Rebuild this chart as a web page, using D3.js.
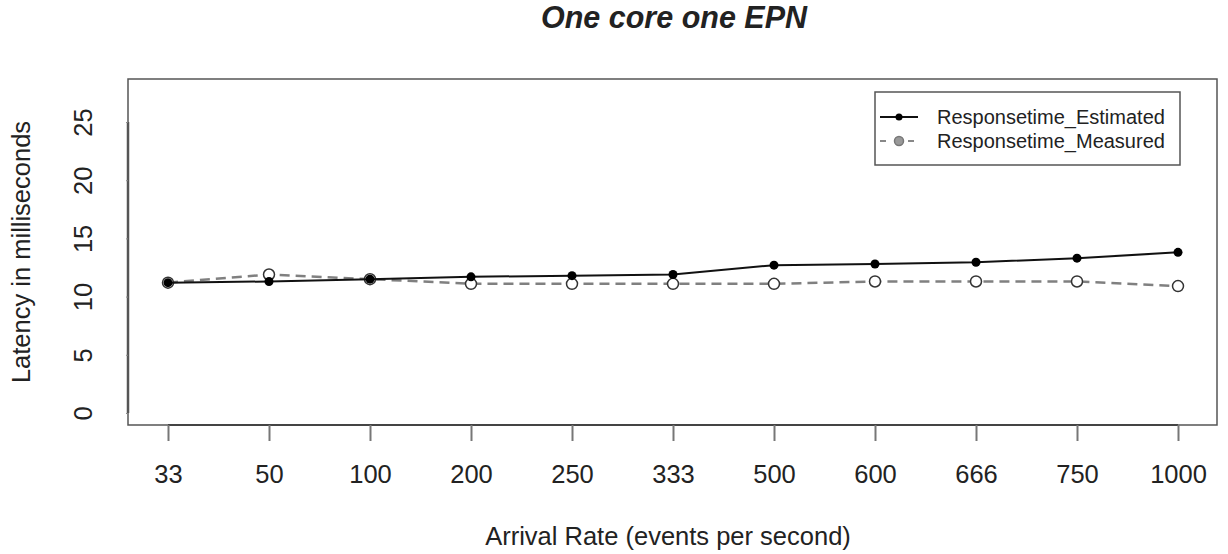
<!DOCTYPE html>
<html>
<head>
<meta charset="utf-8">
<script src="https://cdn.jsdelivr.net/npm/d3@7"></script>
<style>
  body { margin: 0; background: #fff; }
  svg text { font-family: "Liberation Sans", Arial, sans-serif; fill: #222; }
</style>
</head>
<body>
<div id="chart"></div>
<script>
// Data
var arrivalRates = ["33", "50", "100", "200", "250", "333", "500", "600", "666", "750", "1000"];
var estimated = [11.2, 11.3, 11.5, 11.7, 11.8, 11.9, 12.7, 12.8, 12.95, 13.3, 13.8];
var measured = [11.2, 11.9, 11.5, 11.1, 11.1, 11.1, 11.1, 11.3, 11.3, 11.3, 10.9];
var yTicks = [0, 5, 10, 15, 20, 25];
var seriesNames = ["Responsetime_Estimated", "Responsetime_Measured"];

var width = 1228, height = 554;
// plot box (R style frame)
var box = { left: 128, top: 79, right: 1217, bottom: 425 };
var axisFont = "25.5px";

var svg = d3.select("#chart")
  .append("svg")
  .attr("width", width)
  .attr("height", height);

// Scales
var x = d3.scalePoint()
  .domain(arrivalRates)
  .range([168, 1178]);

var y = d3.scaleLinear()
  .domain([0, 25])
  .range([413, 122]);

// Title
svg.append("text")
  .attr("x", 674)
  .attr("y", 28)
  .attr("text-anchor", "middle")
  .style("font-size", "30.5px")
  .style("font-weight", "bold")
  .style("font-style", "italic")
  .text("One core one EPN");

// Frame
svg.append("rect")
  .attr("x", box.left)
  .attr("y", box.top)
  .attr("width", box.right - box.left)
  .attr("height", box.bottom - box.top)
  .attr("fill", "none")
  .attr("stroke", "#555")
  .attr("stroke-width", 1.5);

// X axis
var xAxis = svg.append("g")
  .attr("transform", "translate(0," + box.bottom + ")")
  .call(d3.axisBottom(x).tickSize(16).tickPadding(24));
xAxis.select(".domain").attr("stroke", "#444").attr("stroke-width", 2)
  .attr("d", "M" + x(arrivalRates[0]) + ",0H" + x(arrivalRates[arrivalRates.length - 1]));
xAxis.selectAll(".tick line").attr("stroke", "#777").attr("stroke-width", 2);
xAxis.selectAll(".tick text")
  .style("font-size", axisFont)
  .style("font-family", "Liberation Sans, Arial, sans-serif")
  .attr("fill", "#222");

// Y axis (labels rotated like R's default)
var yAxis = svg.append("g")
  .attr("transform", "translate(" + box.left + ",0)")
  .call(d3.axisLeft(y).tickValues(yTicks).tickSize(2).tickPadding(0));
yAxis.select(".domain").attr("stroke", "#555").attr("stroke-width", 2.5)
  .attr("d", "M0," + y(0) + "V" + y(25));
yAxis.selectAll(".tick line").attr("stroke", "#888");
yAxis.selectAll(".tick text")
  .style("font-size", axisFont)
  .style("font-family", "Liberation Sans, Arial, sans-serif")
  .attr("fill", "#222")
  .attr("x", null)
  .attr("dy", null)
  .attr("text-anchor", "middle")
  .attr("transform", "translate(-36,0) rotate(-90)");

// Axis titles
svg.append("text")
  .attr("x", 668)
  .attr("y", 545)
  .attr("text-anchor", "middle")
  .style("font-size", axisFont)
  .text("Arrival Rate (events per second)");

svg.append("text")
  .attr("transform", "translate(30,252) rotate(-90)")
  .attr("text-anchor", "middle")
  .style("font-size", axisFont)
  .text("Latency in milliseconds");

// Lines
var line = d3.line()
  .x(function (d, i) { return x(arrivalRates[i]); })
  .y(function (d) { return y(d); });

svg.append("path")
  .datum(measured)
  .attr("d", line)
  .attr("fill", "none")
  .attr("stroke", "#808080")
  .attr("stroke-width", 2.5)
  .attr("stroke-dasharray", "10,6");

svg.selectAll(".pt-measured")
  .data(measured)
  .enter()
  .append("circle")
  .attr("class", "pt-measured")
  .attr("cx", function (d, i) { return x(arrivalRates[i]); })
  .attr("cy", function (d) { return y(d); })
  .attr("r", 5.5)
  .attr("fill", "#fff")
  .attr("stroke", "#333")
  .attr("stroke-width", 1.5);

svg.append("path")
  .datum(estimated)
  .attr("d", line)
  .attr("fill", "none")
  .attr("stroke", "#111")
  .attr("stroke-width", 2);

svg.selectAll(".pt-estimated")
  .data(estimated)
  .enter()
  .append("circle")
  .attr("class", "pt-estimated")
  .attr("cx", function (d, i) { return x(arrivalRates[i]); })
  .attr("cy", function (d) { return y(d); })
  .attr("r", 4.5)
  .attr("fill", "#000");

// Legend
var legend = svg.append("g");
legend.append("rect")
  .attr("x", 875)
  .attr("y", 92)
  .attr("width", 305)
  .attr("height", 73)
  .attr("fill", "#fff")
  .attr("stroke", "#555")
  .attr("stroke-width", 1.5);

var legendRows = legend.selectAll(".row")
  .data(seriesNames)
  .enter()
  .append("g")
  .attr("class", "row")
  .attr("transform", function (d, i) { return "translate(0," + (117 + i * 24) + ")"; });

legendRows.append("line")
  .attr("x1", 880)
  .attr("x2", 918)
  .attr("stroke", function (d, i) { return i === 0 ? "#111" : "#888"; })
  .attr("stroke-width", 2)
  .attr("stroke-dasharray", function (d, i) { return i === 0 ? null : "6,8"; });

legendRows.append("circle")
  .attr("cx", 899)
  .attr("r", function (d, i) { return i === 0 ? 3.5 : 4.5; })
  .attr("fill", function (d, i) { return i === 0 ? "#000" : "#999"; })
  .attr("stroke", function (d, i) { return i === 0 ? "none" : "#777"; })
  .attr("stroke-width", 1.5);

legendRows.append("text")
  .attr("x", 937)
  .attr("y", 7)
  .style("font-size", "20px")
  .text(function (d) { return d; });
</script>
</body>
</html>
